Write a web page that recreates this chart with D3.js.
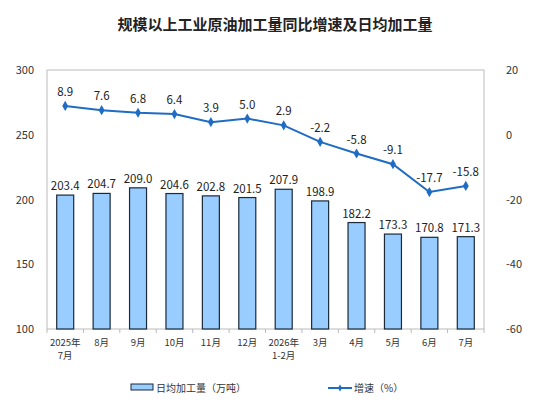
<!DOCTYPE html>
<html><head><meta charset="utf-8">
<script src="https://cdn.jsdelivr.net/npm/d3@7"></script>
<style>body{margin:0;background:#fff}text{font-family:"Noto Sans CJK SC",sans-serif}</style>
</head><body>
<script>
const months = ['2025年\n7月','8月','9月','10月','11月','12月','2026年\n1-2月','3月','4月','5月','6月','7月'];
const output = [203.4,204.7,209.0,204.6,202.8,201.5,207.9,198.9,182.2,173.3,170.8,171.3];
const growth = [8.9,7.6,6.8,6.4,3.9,5.0,2.9,-2.2,-5.8,-9.1,-17.7,-15.8];
const leftTicks = [100,150,200,250,300];
const rightTicks = [-60,-40,-20,0,20];

const W = 550, H = 407;
const m = {l:47, r:66, t:70, b:78};
const svg = d3.select('body').append('svg').attr('width', W).attr('height', H);

svg.append('text').attr('x', W/2).attr('y', 30).attr('text-anchor','middle')
  .attr('font-size', 15).attr('font-weight','bold').attr('fill','#222').text('规模以上工业原油加工量同比增速及日均加工量');

const x = d3.scaleBand().domain(months).range([m.l, W - m.r]);
const yL = d3.scaleLinear().domain([100,300]).range([H - m.b, m.t]);
const yR = d3.scaleLinear().domain([-60,20]).range([H - m.b, m.t]);

// left axis labels
svg.append('g').selectAll('text').data(leftTicks).join('text')
  .attr('x', 34).attr('y', d => yL(d) + 4).attr('text-anchor','end')
  .attr('font-size', 11).attr('fill','#333').text(d => d);
svg.append('g').selectAll('text').data(rightTicks).join('text')
  .attr('x', W - m.r + 22).attr('y', d => yR(d) + 4).attr('text-anchor','start')
  .attr('font-size', 11).attr('fill','#333').text(d => d);

// frame
svg.append('rect').attr('x', m.l).attr('y', m.t).attr('width', W - m.l - m.r)
  .attr('height', H - m.t - m.b).attr('fill','none').attr('stroke','#bbb');

// x tick marks
const edges = months.map(d => x(d)).concat([W - m.r]);
svg.append('g').selectAll('line').data(edges).join('line')
  .attr('x1', d => d).attr('x2', d => d).attr('y1', H - m.b).attr('y2', H - m.b + 4).attr('stroke','#bbb');

// bars
const bw = 17;
svg.append('g').selectAll('rect').data(output).join('rect')
  .attr('x', (d,i) => x(months[i]) + x.bandwidth()/2 - bw/2)
  .attr('y', d => yL(d)).attr('width', bw).attr('height', d => yL(100) - yL(d))
  .attr('fill','#99ccff').attr('stroke','#1a2a3a').attr('stroke-width',1.2);
svg.append('g').selectAll('text').data(output).join('text')
  .attr('x', (d,i) => x(months[i]) + x.bandwidth()/2).attr('y', d => yL(d) - 5)
  .attr('text-anchor','middle').attr('font-size', 11.5).attr('fill','#222').text(d => d.toFixed(1));

// line
const cx = i => x(months[i]) + x.bandwidth()/2;
svg.append('path').datum(growth)
  .attr('d', d3.line().x((d,i) => cx(i)).y(d => yR(d)))
  .attr('fill','none').attr('stroke','#1f6cc4').attr('stroke-width',2);
svg.append('g').selectAll('path').data(growth).join('path')
  .attr('transform', (d,i) => `translate(${cx(i)},${yR(d)})`)
  .attr('d', d3.symbol(d3.symbolDiamond, 30)).attr('fill','#1f6cc4');
svg.append('g').selectAll('text').data(growth).join('text')
  .attr('x', (d,i) => cx(i)).attr('y', d => yR(d) - 10)
  .attr('text-anchor','middle').attr('font-size', 11.5).attr('fill','#222').text(d => d.toFixed(1));

// x labels
svg.append('g').selectAll('text').data(months).join('text')
  .attr('x', d => x(d) + x.bandwidth()/2).attr('y', H - m.b + 17)
  .attr('text-anchor','middle').attr('font-size', 9.5).attr('fill','#333')
  .each(function(d){
    d.split('\n').forEach((s,k) => d3.select(this).append('tspan')
      .attr('x', x(d) + x.bandwidth()/2).attr('dy', k ? 13 : 0).text(s));
  });

// legend
const ly = 388;
svg.append('rect').attr('x', 131).attr('y', ly - 4).attr('width', 22).attr('height', 6)
  .attr('fill','#99ccff').attr('stroke','#1a2a3a');
svg.append('text').attr('x', 156).attr('y', ly + 4).attr('font-size', 10).attr('fill','#333').text('日均加工量（万吨）');
svg.append('line').attr('x1', 328).attr('x2', 352).attr('y1', ly).attr('y2', ly).attr('stroke','#1f6cc4').attr('stroke-width',2);
svg.append('path').attr('transform', `translate(340,${ly})`).attr('d', d3.symbol(d3.symbolDiamond, 14)).attr('fill','#1f6cc4');
svg.append('text').attr('x', 354).attr('y', ly + 4).attr('font-size', 10).attr('fill','#333').text('增速（%）');
</script>
</body></html>
